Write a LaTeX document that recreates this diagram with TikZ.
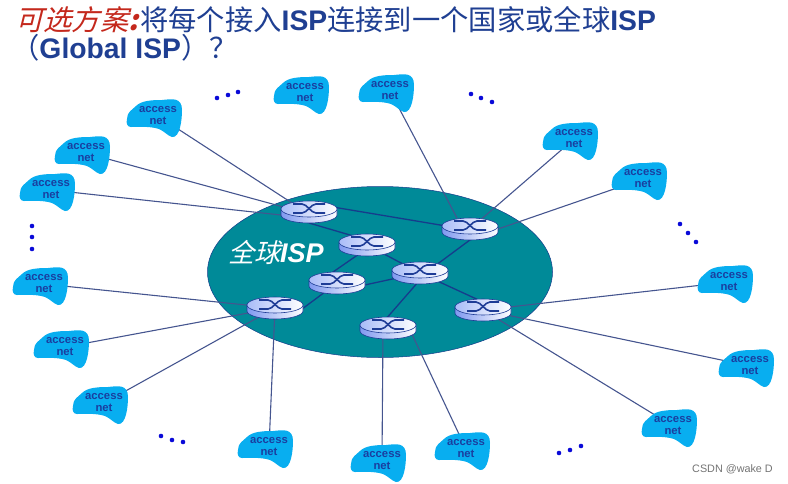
\documentclass[tikz,border=0pt]{standalone}
\usepackage{fontspec}
\setmainfont{Liberation Sans}
\newfontfamily\cjk{Noto Sans CJK SC}
\newfontfamily\cjkit[FakeSlant=0.25]{Noto Sans CJK SC}
\usetikzlibrary{shapes.geometric}
\definecolor{titleblue}{HTML}{1F3F92}
\definecolor{titlered}{HTML}{C4281C}
\definecolor{teal1}{HTML}{008A98}
\definecolor{netblue}{HTML}{08AEF0}
\definecolor{nettext}{HTML}{1A3FA0}
\definecolor{linkout}{HTML}{45558F}
\definecolor{linkin}{HTML}{163C8C}
\definecolor{routerline}{HTML}{1E3C96}
\definecolor{rimleft}{HTML}{8099F0}
\definecolor{topleft}{HTML}{A9BCF8}
\definecolor{dotblue}{HTML}{0A0AD8}
\pgfdeclarelayer{ispl}\pgfdeclarelayer{linkl}\pgfdeclarelayer{blobl}
\pgfsetlayers{ispl,linkl,blobl,main}
\tikzset{
  accnode/.style={inner sep=0pt,align=center,font=\bfseries\fontsize{11.3}{12}\selectfont,text=nettext},
  routernode/.style={inner sep=0pt,minimum width=56pt,minimum height=22pt,shape=rectangle},
  uplink/.style={draw=linkout,line width=1.1pt},
  corelink/.style={draw=linkin,line width=1.3pt},
  dotmark/.style={fill=dotblue,draw=none},
  titlefont/.style={font=\fontsize{28.3}{30}\selectfont,anchor=base west,inner sep=0pt}
}
\begin{document}
\begin{tikzpicture}[x=1pt,y=-1pt]
\useasboundingbox (0,0) rectangle (788,483);
% titles
\node[titlefont,text=titlered] (t1) at (15,30) {\cjkit 可选方案\bfseries\itshape :};
\node[titlefont,text=titleblue] (t2) at (140,30) {{\cjk 将每个接入}\textbf{ISP}{\cjk 连接到一个国家或全球}\textbf{ISP}};
\node[titlefont,text=titleblue] (t3) at (11,58) {{\cjk （}\textbf{Global ISP}{\cjk ）？}};
% core ellipse
\begin{pgfonlayer}{ispl}
\node[ellipse,fill=teal1,draw=linkin,line width=.5pt,minimum width=345pt,minimum height=171pt,inner sep=0pt] (isp) at (380,272) {};
\end{pgfonlayer}
\node[inner sep=0pt,text=white,font=\fontsize{27}{30}\selectfont,anchor=base west] (isplabel) at (228,262) {{\cjkit\fontsize{26}{30}\selectfont 全球}\textbf{\textit{ISP}}};
% routers
\foreach \n/\x/\y in {r1/309/212,r2/470/229,r3/367/245,r4/420/273,r5/337/283,r6/275/308,r7/483/310,r8/388/328}{
  \node[routernode] (\n) at (\x,\y) {};
  \begin{scope}[shift={(\n.center)}]
    \path[draw=routerline,line width=.6pt,left color=rimleft,right color=white]
      (-28,-3) -- (-28,3) arc[start angle=180,end angle=0,x radius=28,y radius=8] -- (28,-3) -- cycle;
    \path[draw=routerline,line width=.6pt,left color=topleft,right color=white]
      (0,-3) ellipse[x radius=28,y radius=8];
    \draw[routerline,line width=1.6pt] (-16,-8) -- (-7,-8) .. controls (-2,-8) and (2,1) .. (7,1) -- (16,1);
    \draw[routerline,line width=1.6pt] (-16,1) -- (-7,1) .. controls (-2,1) and (2,-8) .. (7,-8) -- (16,-8);
  \end{scope}
}
% access networks
\foreach \n/\x/\y in {a1/158/116,a2/86/153,a3/51/190,a4/44/284,a5/65/347,a6/104/403,a7/269/447,a8/382/461,a9/466/449,a10/673/426,a11/750/366,a12/729/282,a13/643/179,a14/574/139,a15/390/91,a16/305/93}{
  \node[accnode] (\n) at (\x,\y) {access\\net};
  \begin{pgfonlayer}{blobl}
  \fill[netblue,shift={(\n.center)}] (-31,3) .. controls (-31,-4) and (-26,-6) .. (-22,-10)
     .. controls (-17,-15) and (-8,-16) .. (4,-16)
     .. controls (14,-17) and (24,-19) .. (24,-6)
     .. controls (24,4) and (22,22) .. (14,21)
     .. controls (10,20) and (6,15) .. (1,13)
     .. controls (-8,10) and (-20,11) .. (-27,11)
     .. controls (-31,11) and (-32,7) .. (-31,3) -- cycle;
  \end{pgfonlayer}
}
% connectors
\begin{pgfonlayer}{linkl}
\foreach \a/\b/\bx/\by in {a1/r1/0/2,a2/r1/0/2,a3/r1/-28/3,a15/r2/-13/-11,a14/r2/0/0,a13/r2/28/0,a12/r7/0/0,a11/r7/0/0,a10/r7/0/0,a9/r8/22/2,a8/r8/-5/0,a7/r6/0/0,a6/r6/0/0,a5/r6/0/0,a4/r6/0/0}{
  \draw[uplink] (\a.center) -- ([shift={(\bx,\by)}]\b.center);
}
\foreach \a/\ax/\ay/\b/\bx/\by in {r1/0/-9/r2/0/1,r1/0/11/r3/0/-5,r2/12/2/r4/0/4,r3/0/0/r4/0/0,r3/5/0/r5/-17/-2,r5/0/8/r4/0/0,r5/0/0/r6/15/10,r4/6/0/r8/-10/0,r4/0/0/r7/0/-8}{
  \draw[corelink] ([shift={(\ax,\ay)}]\a.center) -- ([shift={(\bx,\by)}]\b.center);
}
\end{pgfonlayer}
% ellipsis dots
\foreach \x/\y in {217/98,228/95,238/92,471/94,481/98,492/102,32/226,32/237,32/249,680/224,688/233,696/242,161/436,172/440,183/442,559/453,570/450,581/446}{
  \fill[dotmark] (\x,\y) circle[radius=2.3];
}
\node[inner sep=0pt,anchor=base west,text=black!55,font=\fontsize{10.8}{13}\selectfont] (wm) at (692,472) {CSDN @wake D};
\end{tikzpicture}
\end{document}
